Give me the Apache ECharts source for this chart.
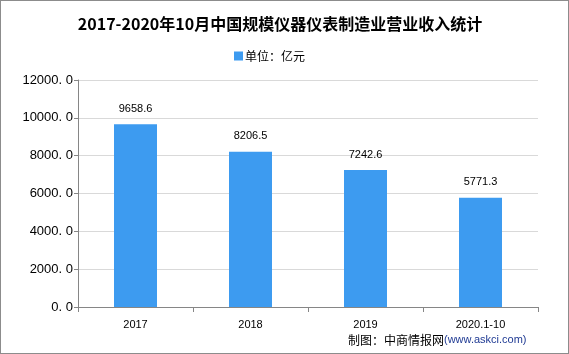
<!DOCTYPE html>
<html>
<head>
<meta charset="utf-8">
<script src="https://cdn.jsdelivr.net/npm/echarts@6/dist/echarts.min.js"></script>
<style>
  html, body { margin: 0; padding: 0; }
  #chart { width: 567px; height: 352px; border: 1px solid #8c8c8c; }
</style>
</head>
<body>
<div id="chart"></div>
<script>
/* 数据 */
const years = ['2017', '2018', '2019', '2020.1-10'];
const income = [9658.6, 8206.5, 7242.6, 5771.3];
const seriesName = '单位：亿元';

const myChart = echarts.init(document.getElementById('chart'));
const option = {
  backgroundColor: '#fff',
  title: {
    text: '2017-2020年10月中国规模仪器仪表制造业营业收入统计',
    left: 274,
    textAlign: 'center',
    top: 10,
    textStyle: {
      fontFamily: 'Noto Sans CJK SC',
      fontSize: 16,
      fontWeight: 'bold',
      color: '#000'
    }
  },
  legend: {
    top: 44,
    left: 228,
    itemWidth: 9,
    itemHeight: 9,
    itemGap: 2,
    icon: 'rect',
    textStyle: { fontFamily: 'Noto Sans CJK SC', fontSize: 12, color: '#000', padding: [0, 0, 0, -3] },
    data: [seriesName]
  },
  grid: { left: 77, right: 30, top: 79, bottom: 46 },
  xAxis: {
    type: 'category',
    data: years,
    axisLine: { lineStyle: { color: '#868686' } },
    axisTick: { show: true, lineStyle: { color: '#868686' } },
    axisLabel: { color: '#000', fontSize: 11, margin: 12 }
  },
  yAxis: {
    type: 'value',
    min: 0,
    max: 12000,
    interval: 2000,
    axisLine: { show: true, lineStyle: { color: '#868686' } },
    axisTick: { show: true, length: 4, lineStyle: { color: '#868686' } },
    axisLabel: {
      color: '#000',
      fontSize: 13,
      margin: 5,
      formatter: v => v.toFixed(1).replace('.', '. ')
    },
    splitLine: { lineStyle: { color: '#d9d9d9' } }
  },
  series: [{
    name: seriesName,
    type: 'bar',
    data: income,
    barWidth: 43,
    itemStyle: { color: '#3d9bf0' },
    label: {
      show: true,
      position: 'top',
      distance: 10,
      color: '#000',
      fontSize: 11,
      formatter: p => p.value.toFixed(1)
    }
  }],
  graphic: [{
    type: 'text',
    left: 347,
    top: 333,
    style: {
      rich: {
        a: { fontFamily: 'Noto Sans CJK SC', fontSize: 12, fill: '#000' },
        b: { fontSize: 11, fill: '#1f3a93' }
      },
      text: '{a|制图：中商情报网}{b|(www.askci.com)}'
    }
  }]
};
option && myChart.setOption(option);
</script>
</body>
</html>
